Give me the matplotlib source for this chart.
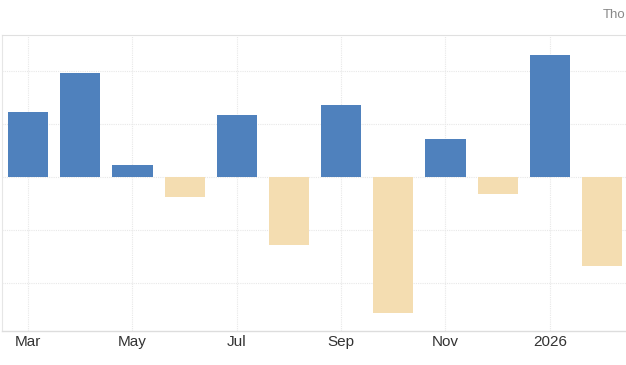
import matplotlib
matplotlib.use("Agg")
import matplotlib.pyplot as plt
import numpy as np

months = ["Mar", "Apr", "May", "Jun", "Jul", "Aug", "Sep", "Oct", "Nov", "Dec", "Jan", "Feb"]
tick_labels = ["Mar", "", "May", "", "Jul", "", "Sep", "", "Nov", "", "2026", ""]
values = [61, 98, 11, -19, 58, -64, 68, -128, 36, -16, 115, -84]

pos_color = "#4f81bd"
neg_color = "#f4ddb1"

fig = plt.figure(figsize=(6.26, 3.65), dpi=100)
ax = fig.add_axes([2/626, 34.3/365, 1 - 2/626, (330.7 - 35) / 365])

x = np.arange(len(months))
colors = [pos_color if v >= 0 else neg_color for v in values]
ax.bar(x, values, width=0.77, color=colors, zorder=3)

ax.set_xlim(-0.5, 11.46)
ax.set_ylim(-145, 133.5)
ax.set_yticks([-100, -50, 0, 50, 100])
ax.set_yticklabels([])
ax.tick_params(axis="y", length=0)
ax.set_xticks(x[::2])
ax.set_xticklabels(tick_labels[::2], fontsize=11, color="#333333", family=["Liberation Sans", "DejaVu Sans"])
ax.tick_params(axis="x", length=0, pad=3)

ax.grid(True, axis="both", color="#e8e8e8", linewidth=0.8, linestyle=(0, (1, 1)), zorder=0)
for s in ["top"]:
    ax.spines[s].set_color("#e0e0e0")
    ax.spines[s].set_linestyle((0, (1, 1)))
    ax.spines[s].set_linewidth(0.8)
ax.spines["right"].set_visible(False)
ax.spines["left"].set_color("#e6e6e6")
ax.spines["left"].set_linewidth(0.8)
ax.spines["bottom"].set_color("#dddddd")
ax.spines["bottom"].set_linewidth(1.0)

fig.text(603/626, 1 - 15/365, "Tho", fontsize=9.5, color="#888888", va="center", ha="left",
         family=["Liberation Sans", "DejaVu Sans"])

fig.savefig("out.png", dpi=100)
